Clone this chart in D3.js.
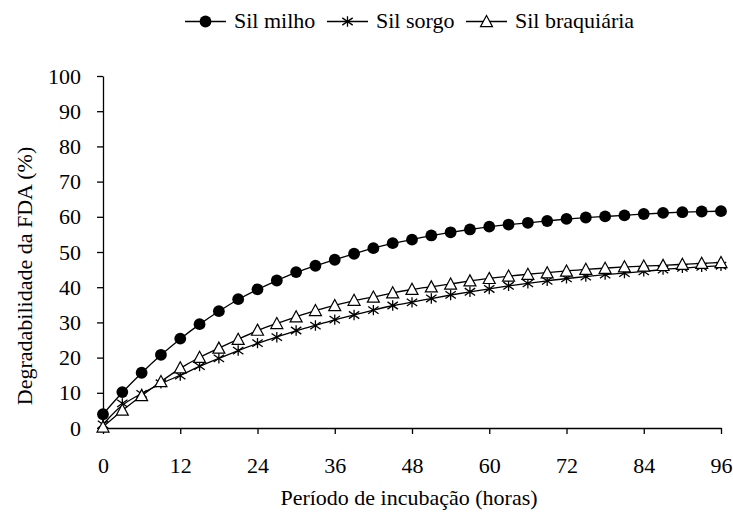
<!DOCTYPE html>
<html>
<head>
<meta charset="utf-8">
<script src="https://cdn.jsdelivr.net/npm/d3@7"></script>
<style>
  body { margin: 0; background: #fff; }
  svg text { font-family: "Times New Roman", "Liberation Serif", Times, serif; fill: #000; }
</style>
</head>
<body>
<div id="chart"></div>
<script>
// Incubation hours (every 3 h)
var hours = [0, 3, 6, 9, 12, 15, 18, 21, 24, 27, 30, 33, 36, 39, 42, 45, 48,
             51, 54, 57, 60, 63, 66, 69, 72, 75, 78, 81, 84, 87, 90, 93, 96];

// Degradability values (%)
var milho = [3.9, 10.2, 15.7, 20.8, 25.4, 29.5, 33.2, 36.6, 39.4, 41.9, 44.3,
             46.1, 47.8, 49.5, 51.1, 52.5, 53.5, 54.7, 55.6, 56.4, 57.2, 57.8,
             58.3, 58.8, 59.4, 59.8, 60.1, 60.4, 60.8, 61.1, 61.3, 61.5, 61.6];
var sorgo = [1.0, 7.0, 9.7, 12.7, 14.9, 17.6, 19.8, 22.0, 24.1, 25.8, 27.7,
             29.1, 30.8, 32.1, 33.5, 34.8, 35.7, 36.8, 37.8, 38.7, 39.5, 40.4,
             41.1, 41.8, 42.5, 43.0, 43.6, 44.0, 44.5, 45.0, 45.5, 45.8, 46.1];
var braquiaria = [0.3, 5.1, 9.2, 13.2, 17.1, 20.1, 22.7, 25.2, 27.8, 29.7, 31.6,
                  33.4, 34.8, 36.3, 37.2, 38.4, 39.4, 40.1, 40.9, 41.8, 42.5, 43.2,
                  43.7, 44.1, 44.6, 45.1, 45.4, 45.8, 46.0, 46.2, 46.5, 46.8, 47.0];

var seriesNames = ["Sil milho", "Sil sorgo", "Sil braquiária"];
var seriesSymbols = ["dot", "star", "triangle"];
var xTicks = [0, 12, 24, 36, 48, 60, 72, 84, 96];
var yTicks = [0, 10, 20, 30, 40, 50, 60, 70, 80, 90, 100];

var series = [milho, sorgo, braquiaria].map(function (vals, i) {
    return { name: seriesNames[i], symbol: seriesSymbols[i],
             points: vals.map(function (v, j) { return { x: hours[j], y: v }; }) };
});

var width = 733, height = 518;
var margin = { top: 76, right: 12, bottom: 90, left: 103 };
var fontSize = 22;
var fontFamily = "'Times New Roman', 'Liberation Serif', Times, serif";

var svg = d3.select("#chart").append("svg")
    .attr("width", width)
    .attr("height", height)
    .style("font-family", fontFamily);

var x = d3.scaleLinear().domain([0, 96]).range([margin.left, width - margin.right]);
var y = d3.scaleLinear().domain([0, 100]).range([height - margin.bottom, margin.top]);

// Axes
var xAxis = svg.append("g")
    .attr("transform", "translate(0," + y(0) + ")")
    .call(d3.axisBottom(x).tickValues(xTicks).tickSize(6).tickSizeOuter(0).tickPadding(23));
var yAxis = svg.append("g")
    .attr("transform", "translate(" + x(0) + ",0)")
    .call(d3.axisLeft(y).tickValues(yTicks).tickSize(6).tickSizeOuter(0).tickPadding(16));

[xAxis, yAxis].forEach(function (ax) {
    ax.attr("font-family", null).attr("font-size", null);
    ax.select(".domain").attr("stroke", "#000").attr("stroke-width", 1.3);
    ax.selectAll(".tick line").attr("stroke", "#000").attr("stroke-width", 1.3);
    ax.selectAll(".tick text")
        .style("font-family", fontFamily)
        .style("font-size", fontSize + "px")
        .attr("fill", "#000");
});

// Axis titles
svg.append("text")
    .attr("x", 409)
    .attr("y", 505)
    .attr("text-anchor", "middle")
    .style("font-size", fontSize + "px")
    .text("Período de incubação (horas)");

svg.append("text")
    .attr("transform", "translate(32,276) rotate(-90)")
    .attr("text-anchor", "middle")
    .style("font-size", fontSize + "px")
    .text("Degradabilidade da FDA (%)");

// Marker drawing
function drawMarker(g, symbol, cx, cy) {
    if (symbol === "dot") {
        g.append("circle").attr("cx", cx).attr("cy", cy).attr("r", 5.9).attr("fill", "#000");
    } else if (symbol === "triangle") {
        var s = 6;
        g.append("path")
            .attr("d", "M" + cx + "," + (cy - s) + "L" + (cx + s) + "," + (cy + s * 0.85) +
                       "L" + (cx - s) + "," + (cy + s * 0.85) + "Z")
            .attr("fill", "#fff").attr("stroke", "#000").attr("stroke-width", 1.2);
    } else {
        var r = 5.2;
        g.append("path")
            .attr("d", "M" + cx + "," + (cy - r) + "V" + (cy + r) +
                       "M" + (cx - r) + "," + (cy - r * 0.7) + "L" + (cx + r) + "," + (cy + r * 0.7) +
                       "M" + (cx - r) + "," + (cy + r * 0.7) + "L" + (cx + r) + "," + (cy - r * 0.7))
            .attr("fill", "none").attr("stroke", "#000").attr("stroke-width", 1.3);
    }
}

var line = d3.line()
    .x(function (d) { return x(d.x); })
    .y(function (d) { return y(d.y); })
    .curve(d3.curveBasis);

var plot = svg.append("g");
series.forEach(function (s) {
    plot.append("path")
        .datum(s.points)
        .attr("d", line)
        .attr("fill", "none")
        .attr("stroke", "#000")
        .attr("stroke-width", 1.3);
});
series.forEach(function (s) {
    var g = plot.append("g");
    s.points.forEach(function (p) { drawMarker(g, s.symbol, x(p.x), y(p.y)); });
});

// Legend
var legendItems = [
    { name: seriesNames[0], symbol: "dot", x0: 185 },
    { name: seriesNames[1], symbol: "star", x0: 327 },
    { name: seriesNames[2], symbol: "triangle", x0: 466 }
];
var legendY = 21.5;
var legend = svg.append("g");
legendItems.forEach(function (it) {
    legend.append("line")
        .attr("x1", it.x0).attr("x2", it.x0 + 41)
        .attr("y1", legendY).attr("y2", legendY)
        .attr("stroke", "#000").attr("stroke-width", 1.3);
    drawMarker(legend, it.symbol, it.x0 + 20.5, legendY);
    legend.append("text")
        .attr("x", it.x0 + 49)
        .attr("y", 28)
        .style("font-size", fontSize + "px")
        .text(it.name);
});
</script>
</body>
</html>
